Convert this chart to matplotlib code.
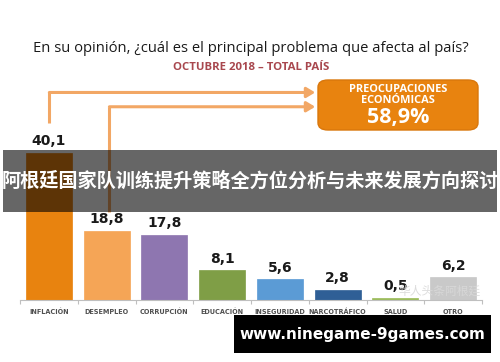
import matplotlib
matplotlib.use('Agg')
import matplotlib.pyplot as plt
from matplotlib.patches import FancyBboxPatch, Rectangle

# datos de la encuesta
categorias = ['INFLACIÓN', 'DESEMPLEO', 'CORRUPCIÓN', 'EDUCACIÓN',
              'INSEGURIDAD', 'NARCOTRÁFICO', 'SALUD', 'OTRO']
valores = [40.1, 18.8, 17.8, 8.1, 5.6, 2.8, 0.5, 6.2]
etiquetas = ['40,1', '18,8', '17,8', '8,1', '5,6', '2,8', '0,5', '6,2']
colores = ['#E8830F', '#F5A556', '#8E76B0', '#7F9E46',
           '#5B9BD5', '#2F5F96', '#9BBB59', '#C9C9C9']

titulo = 'En su opinión, ¿cuál es el principal problema que afecta al país?'
subtitulo = 'OCTUBRE 2018 – TOTAL PAÍS'
caja_titulo = 'PREOCUPACIONES\nECONÓMICAS'
caja_valor = '58,9%'
banner = '阿根廷国家队训练提升策略全方位分析与未来发展方向探讨'
sello = '华人头条阿根廷'
web = 'www.ninegame-9games.com'

W, H = 500, 362
fig = plt.figure(figsize=(5, 3.62), dpi=100)
fig.patch.set_facecolor('white')

# ejes: linea base en y=300 px, de x=20 a x=482 px
ax = fig.add_axes([20 / W, (H - 300) / H, 462 / W, 220 / H])
ax.set_xlim(-0.5, 7.5)
ax.set_ylim(0, 60)
x = list(range(len(categorias)))
ax.bar(x, valores, width=0.8, color=colores, edgecolor=colores, linewidth=0.5, zorder=2)

for xi, v, t in zip(x, valores, etiquetas):
    ax.text(xi, v + 1.3, t, ha='center', va='bottom', fontsize=10,
            fontweight='bold', color='#1a1a1a', family='DejaVu Sans')

for s in ['top', 'right', 'left']:
    ax.spines[s].set_visible(False)
ax.spines['bottom'].set_color('#bfbfbf')
ax.set_yticks([])
ax.set_xticks([i - 0.5 for i in range(len(categorias) + 1)], minor=False)
ax.set_xticklabels([])
ax.tick_params(axis='x', length=3, color='#bfbfbf', direction='out')
for xi, c in zip(x, categorias):
    ax.text(xi, -2.4, c, ha='center', va='top', fontsize=4.7,
            fontweight='bold', color='#505050')

# flechas hacia el recuadro
flecha = '#F2A765'
x_caja = 4.66
ax.plot([0, 0], [48.2, 56.6], color=flecha, lw=2.2, clip_on=False, solid_capstyle='butt')
ax.annotate('', xy=(x_caja, 56.6), xytext=(-0.04, 56.6),
            arrowprops=dict(arrowstyle='-|>,head_length=0.5,head_width=0.3',
                            color=flecha, lw=2.2), annotation_clip=False)
ax.plot([1.04, 1.04], [24, 52.7], color=flecha, lw=2.2, clip_on=False, solid_capstyle='butt')
ax.annotate('', xy=(x_caja, 52.7), xytext=(1.0, 52.7),
            arrowprops=dict(arrowstyle='-|>,head_length=0.5,head_width=0.3',
                            color=flecha, lw=2.2), annotation_clip=False)

# recuadro naranja
caja = FancyBboxPatch((318 / W, (H - 130) / H), 160 / W, 50 / H,
                      boxstyle='round,pad=0,rounding_size=0.02',
                      transform=fig.transFigure, facecolor='#E8830F',
                      edgecolor='#D9770C', lw=1)
fig.patches.append(caja)
fig.text(398 / W, 1 - 95 / H, caja_titulo, ha='center', va='center', fontsize=7.9,
         fontweight='bold', color='white', linespacing=0.9, family='Open Sans')
fig.text(398 / W, 1 - 117 / H, caja_valor, ha='center', va='center', fontsize=15.5,
         fontweight='bold', color='white', family='Open Sans')

# titulos
fig.text(251 / W, 1 - 49 / H, titulo, ha='center', va='center', fontsize=10.6,
         color='#1a1a1a', family='Open Sans')
fig.text(251 / W, 1 - 68 / H, subtitulo, ha='center', va='center', fontsize=8.2,
         fontweight='bold', color='#A8474E', family='Open Sans')

# banda gris con texto chino
fig.patches.append(Rectangle((3 / W, (H - 212) / H), 494 / W, 62 / H,
                             transform=fig.transFigure, facecolor='black',
                             alpha=0.6, zorder=5))
fig.text(250 / W, 1 - 181 / H, banner, ha='center', va='center', fontsize=13.8,
         fontweight='bold', color='white', zorder=6,
         family=['Noto Sans CJK SC', 'DejaVu Sans'])

# sello de agua
fig.text(440 / W, 1 - 291 / H, sello, ha='center', va='center', fontsize=8.5,
         color='#d9d9d9', alpha=0.9, zorder=6,
         family=['Noto Sans CJK SC', 'DejaVu Sans'])

# recuadro negro con la web
fig.patches.append(Rectangle((234 / W, (H - 353) / H), 257 / W, 38 / H,
                             transform=fig.transFigure, facecolor='black', zorder=5))
fig.text(362 / W, 1 - 334 / H, web, ha='center', va='center', fontsize=11,
         fontweight='bold', color='white', zorder=6, family='DejaVu Sans')

fig.savefig('out.png', dpi=100)
